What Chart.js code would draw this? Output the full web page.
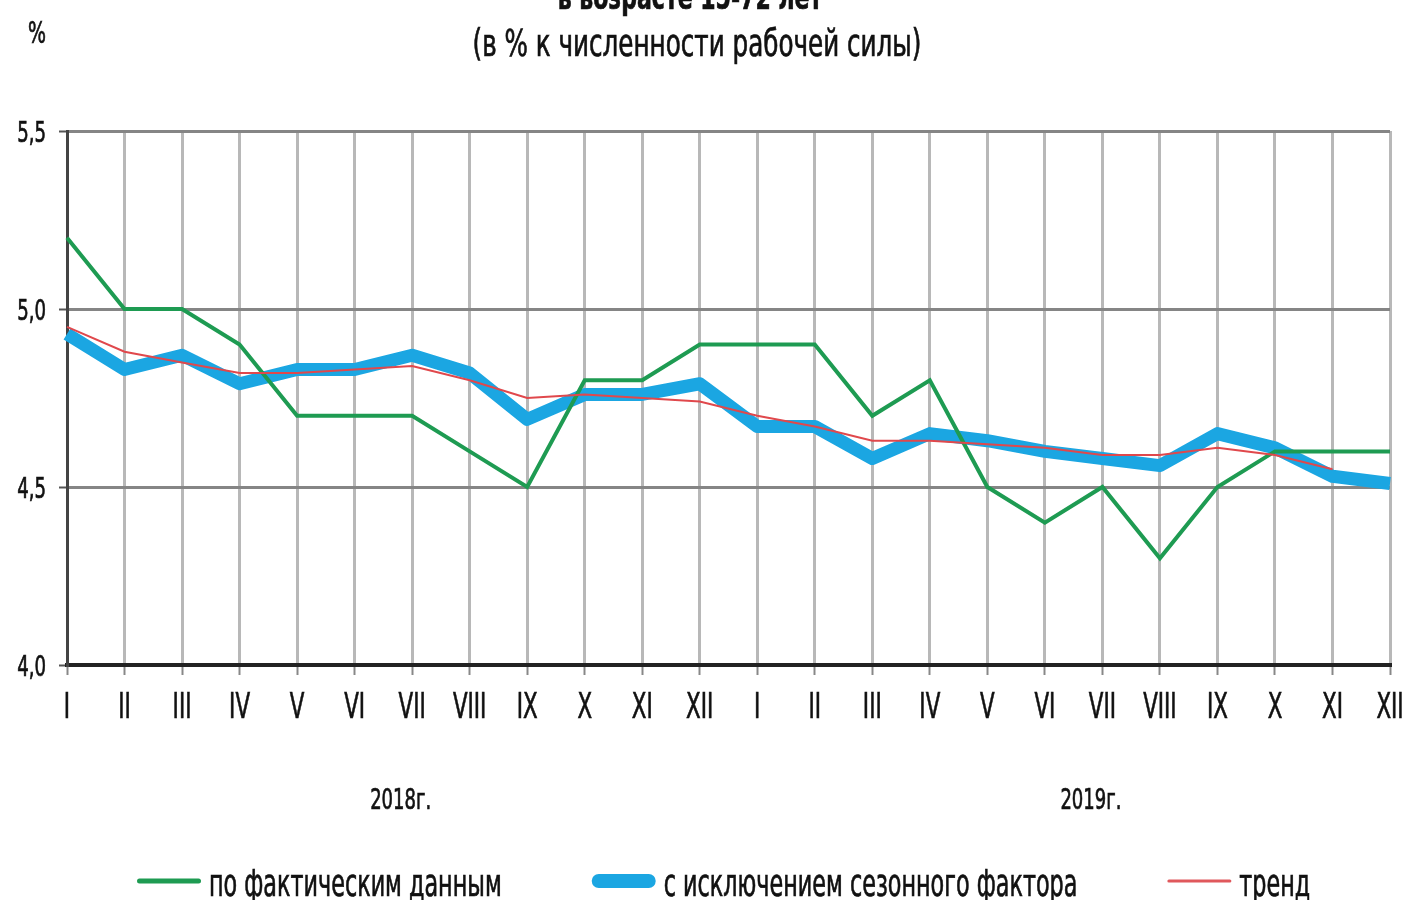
<!DOCTYPE html>
<html>
<head>
<meta charset="utf-8">
<script src="https://cdn.jsdelivr.net/npm/chart.js@4.4.1/dist/chart.umd.min.js"></script>
<style>
  html, body { margin: 0; padding: 0; background: #fff; }
  #wrap { width: 1409px; height: 900px; }
</style>
</head>
<body>
<div id="wrap"><canvas id="unempChart" width="1409" height="900"></canvas></div>
<script>
// months of 2018 and 2019
const months = ['I', 'II', 'III', 'IV', 'V', 'VI', 'VII', 'VIII', 'IX', 'X', 'XI', 'XII',
                'I', 'II', 'III', 'IV', 'V', 'VI', 'VII', 'VIII', 'IX', 'X', 'XI', 'XII'];
const years = ['2018г.', '2019г.'];

const actual = [5.2, 5.0, 5.0, 4.9, 4.7, 4.7, 4.7, 4.6, 4.5, 4.8, 4.8, 4.9,
                4.9, 4.9, 4.7, 4.8, 4.5, 4.4, 4.5, 4.3, 4.5, 4.6, 4.6, 4.6];
const seasonal = [4.93, 4.83, 4.87, 4.79, 4.83, 4.83, 4.87, 4.82, 4.69, 4.76, 4.76, 4.79,
                  4.67, 4.67, 4.58, 4.65, 4.63, 4.60, 4.58, 4.56, 4.65, 4.61, 4.53, 4.51];
const trend = [4.95, 4.88, 4.85, 4.82, 4.82, 4.83, 4.84, 4.80, 4.75, 4.76, 4.75, 4.74,
               4.70, 4.67, 4.63, 4.63, 4.62, 4.61, 4.59, 4.59, 4.61, 4.59, 4.55, null];

const seriesNames = ['по фактическим данным', 'с исключением сезонного фактора', 'тренд'];
const titleText = 'в возрасте 15-72 лет';
const subtitleText = '(в % к численности рабочей силы)';

// no narrow font installed, so condensed text is squeezed by hand
const FONT = '"DejaVu Sans Condensed", "DejaVu Sans", sans-serif';

function squeezedText(c, text, x, y, size, sx, align, bold) {
    c.save();
    c.translate(x, y);
    c.scale(sx, 1);
    c.font = (bold ? 'bold ' : '') + size + 'px ' + FONT;
    c.textAlign = align;
    c.textBaseline = 'alphabetic';
    c.fillText(text, 0, 0);
    // a hairline stroke gives the heavier look of the original
    c.strokeStyle = c.fillStyle;
    c.lineWidth = 0.7;
    c.strokeText(text, 0, 0);
    c.restore();
}

document.addEventListener('DOMContentLoaded', function() {
    const ctx = document.getElementById('unempChart').getContext('2d');

    const decorPlugin = {
        id: 'decor',
        afterDraw(chart) {
            const c = chart.ctx;
            const xs = chart.scales.x;
            const ys = chart.scales.y;
            c.save();
            c.fillStyle = '#111';

            // title (cut off at the top edge, as in the source)
            squeezedText(c, titleText, 690, 9, 34, 0.72, 'center', true);
            squeezedText(c, subtitleText, 697, 56, 37, 0.74, 'center');
            squeezedText(c, '%', 37, 43, 30, 0.7, 'center');

            // axis labels, placed from the scales
            xs.ticks.forEach((t, i) => {
                squeezedText(c, months[i], xs.getPixelForTick(i), 718, 36, 0.66, 'center');
            });
            ys.ticks.forEach((t, i) => {
                const label = t.value.toFixed(1).replace('.', ',');
                squeezedText(c, label, 46, ys.getPixelForTick(i) + 11, 28, 0.72, 'right');
            });

            // year captions under each block of 12 months
            years.forEach((y, i) => {
                squeezedText(c, y, xs.getPixelForValue(i * 12 + 5.8), 809, 29, 0.69, 'center');
            });

            // legend
            const styles = [
                { color: '#1e9b52', width: 5 },
                { color: '#1ba6e2', width: 14 },
                { color: '#e0585c', width: 3 }
            ];
            const ly = 881;
            let x = 137;
            seriesNames.forEach((name, i) => {
                c.strokeStyle = styles[i].color;
                c.lineWidth = styles[i].width;
                c.lineCap = 'round';
                c.beginPath();
                c.moveTo(x + styles[i].width / 2, ly);
                c.lineTo(x + 64 - styles[i].width / 2, ly);
                c.stroke();
                x += 72;
                squeezedText(c, name, x, 896, 37, 0.67, 'left');
                c.font = '37px ' + FONT;
                x += c.measureText(name).width * 0.67 + 90;
            });
            c.restore();
        }
    };

    new Chart(ctx, {
        type: 'line',
        data: {
            labels: months,
            datasets: [{
                label: seriesNames[0],
                data: actual,
                borderColor: '#1e9b52',
                borderWidth: 4,
                pointRadius: 0,
                tension: 0,
                order: 1
            }, {
                label: seriesNames[1],
                data: seasonal,
                borderColor: '#1ba6e2',
                borderWidth: 13,
                borderJoinStyle: 'round',
                borderCapStyle: 'butt',
                pointRadius: 0,
                tension: 0,
                order: 2
            }, {
                label: seriesNames[2],
                data: trend,
                borderColor: '#e0484c',
                borderWidth: 2,
                pointRadius: 0,
                tension: 0,
                order: 0
            }]
        },
        options: {
            responsive: false,
            animation: false,
            layout: {
                padding: { top: 131, right: 19, left: 0, bottom: 0 }
            },
            plugins: {
                legend: { display: false },
                title: { display: false },
                tooltip: { enabled: false }
            },
            scales: {
                x: {
                    offset: false,
                    afterFit: function(scale) { scale.height = 235; },
                    grid: {
                        color: '#b8b8b8',
                        lineWidth: 3,
                        tickLength: 10,
                        tickColor: '#888',
                        tickWidth: 2
                    },
                    border: { color: '#222', width: 4 },
                    ticks: { display: false, autoSkip: false }
                },
                y: {
                    min: 4.0,
                    max: 5.5,
                    afterFit: function(scale) { scale.width = 67; },
                    grid: {
                        color: '#858585',
                        lineWidth: 3,
                        tickLength: 8,
                        tickColor: '#555',
                        tickWidth: 2
                    },
                    border: { color: '#444', width: 3 },
                    ticks: { display: false, stepSize: 0.5 }
                }
            }
        },
        plugins: [decorPlugin]
    });
});
</script>
</body>
</html>
